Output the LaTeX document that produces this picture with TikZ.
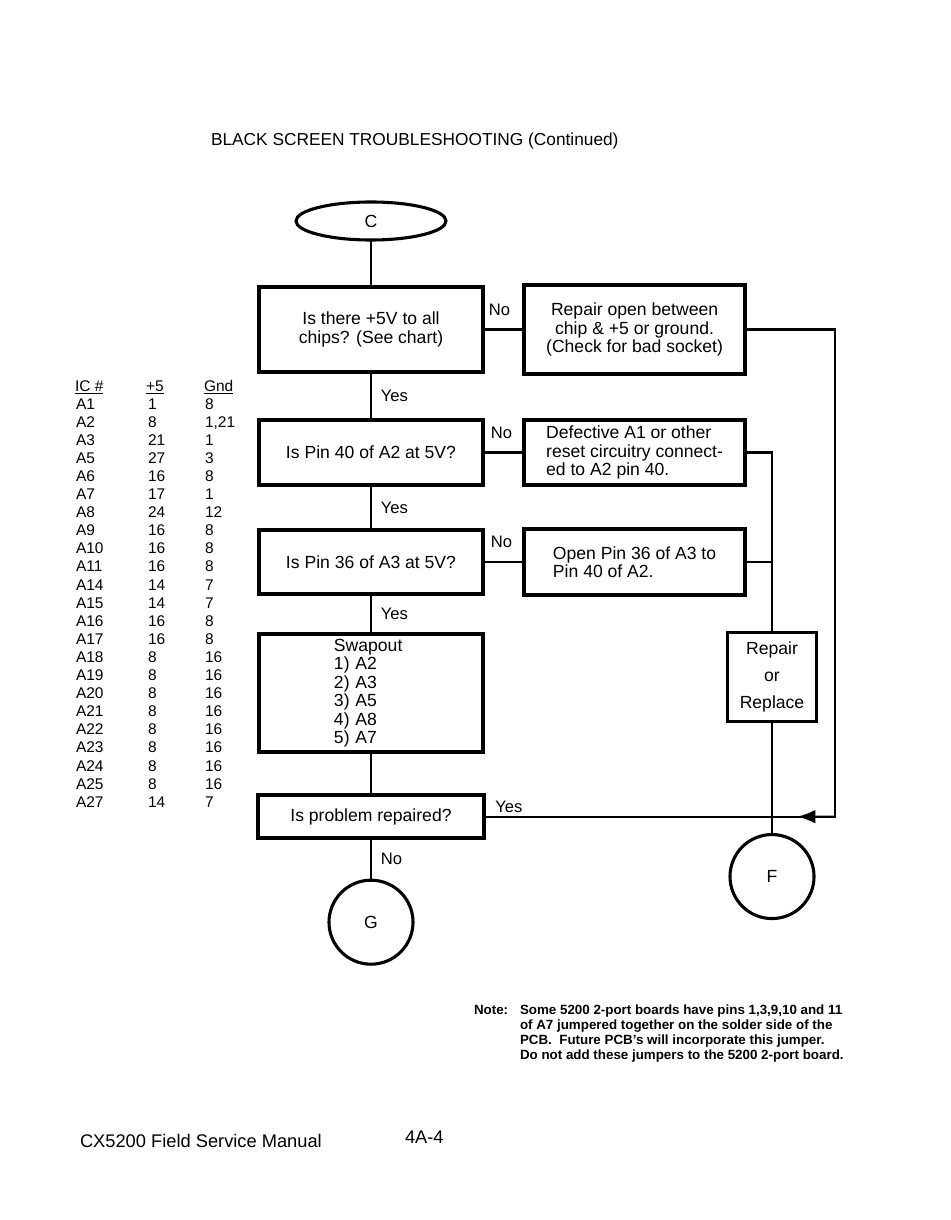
\documentclass[tikz,border=0pt]{standalone}
\usepackage{fontspec}
\setmainfont{Liberation Sans}
\usetikzlibrary{positioning,arrows.meta,shapes.geometric,calc}

\begin{document}
\begin{tikzpicture}[
	x=0.025cm, y=-0.025cm,
	font=\fontsize{12.5}{13.2}\selectfont,
	node distance=11mm,
	every node/.style={outer sep=0pt},
	question/.style={
		draw,
		line width=2.6pt,
		minimum width=56mm,
		align=center,
		inner sep=2pt,
	},
	action/.style={
		draw,
		line width=2.6pt,
		minimum width=55.25mm,
		align=left,
		inner sep=2pt,
	},
	repairbox/.style={
		action,
		minimum width=22.25mm,
		minimum height=22.25mm,
		align=center,
	},
	terminal/.style={
		draw,
		circle,
		line width=2.2pt,
		minimum size=21mm,
	},
	conn/.style={line width=1.6pt},
	arr/.style={conn, -{Latex[length=4.5mm,width=3.4mm]}},
	lbl/.style={inner sep=2pt, font=\fontsize{11.8}{13}\selectfont},
	tabcell/.style={anchor=base west, inner sep=0pt, font=\fontsize{11}{13}\selectfont},
]

\useasboundingbox (0,0) rectangle (950,1220);

% --- Titel ---
\node[anchor=base west, inner sep=0pt, font=\fontsize{12.3}{14}\selectfont] (title) at (211,146) {BLACK SCREEN TROUBLESHOOTING (Continued)};

% --- Hauptkette ---
\node[ellipse, draw, line width=2.2pt, minimum width=37.5mm, minimum height=9.5mm, inner sep=0pt] (c) at (371,221) {C};

\node[question, minimum height=21.25mm, below=11.75mm of c] (q1) {Is there +5V to all\\chips? (See chart)};

\node[question, minimum height=16.25mm, below=12mm of q1] (q2) {Is Pin 40 of A2 at 5V?};

\node[question, minimum height=16mm, below=11.25mm of q2] (q3) {Is Pin 36 of A3 at 5V?};

\node[question, minimum height=29.5mm, text width=18.5mm, align=left, below=10mm of q3] (swap) {%
	Swapout\\
	1) A2\\
	2) A3\\
	3) A5\\
	4) A8\\
	5) A7%
};

\node[question, minimum height=10.75mm, minimum width=56.5mm, below=10.75mm of swap] (q5) {Is problem repaired?};

\node[terminal, below=10.5mm of q5] (g) {G};

% --- Reparaturen (rechts) ---
\node[action, align=center, minimum height=22.25mm, right=10.25mm of q1] (fix1) {Repair open between\\chip \& +5 or ground.\\(Check for bad socket)};
\node[action, minimum height=16.25mm, right=10.25mm of q2] (fix2) {Defective A1 or other\\reset circuitry connect-\\ed to A2 pin 40.};
\node[action, minimum height=16.5mm, right=10.25mm of q3] (fix3) {Open Pin 36 of A3 to\\Pin 40 of A2.};

\node[repairbox] (repair) at (772,677) {Repair\\[6pt]or\\[6pt]Replace};
\node[terminal, below=28.25mm of repair] (f) {F};

% --- Pfeile Hauptkette ---
\draw[conn] (c) -- (q1);
\draw[conn] (q1) -- node[lbl, right=5pt] {Yes} (q2);
\draw[conn] (q2) -- node[lbl, right=5pt] {Yes} (q3);
\draw[conn] (q3) -- node[lbl, right=5pt] {Yes} (swap);
\draw[conn] (swap) -- (q5);
\draw[conn] (q5) -- node[lbl, right=5pt] {No} (g);

% --- Nein-Zweige ---
\draw[conn] (q1.east) -- node[lbl, above=8pt, pos=0.4] {No} (fix1.west);
\draw[conn] (q2.east) -- node[lbl, above=8pt, pos=0.45] {No} (fix2.west);
\draw[conn] (q3.east) -- node[lbl, above=8pt, pos=0.45] {No} (fix3.west);

\draw[conn] (fix2.east) -| (repair.north);
\draw[conn] (fix3.east) -| (repair.north);
\draw[conn] (repair.south) -- (f.north);

% --- Rueckweg von fix1 und Ja-Zweig ---
\coordinate (bypassTop) at ($(fix1.east)+(90,0)$);
\coordinate (fjoin) at (repair.south |- q5.east);
\coordinate (bypassBot) at (bypassTop |- fjoin);
\draw[conn] (fix1.east) -- (bypassTop) -- (bypassBot) -- (fjoin);
\draw[arr] (bypassBot) -- ($(bypassBot)!0.6!(fjoin)$);
\draw[conn] (q5.east) -- node[lbl, pos=0, above right=1pt and 6pt] {Yes} (fjoin);

% --- Tabelle ---
\node[tabcell] (hic) at (75,391) {\underline{IC \#}};
\node[tabcell] (hvcc) at (146,391) {\underline{+5}};
\node[tabcell] (hgnd) at (204,391) {\underline{Gnd}};
\foreach \ic/\vcc/\gnd [count=\r] in {A1/1/8, A2/8/{1,21}, A3/21/1, A5/27/3, A6/16/8,
		A7/17/1, A8/24/12, A9/16/8, A10/16/8, A11/16/8, A14/14/7, A15/14/7,
		A16/16/8, A17/16/8, A18/8/16, A19/8/16, A20/8/16, A21/8/16, A22/8/16,
		A23/8/16, A24/8/16, A25/8/16, A27/14/7} {
	\pgfmathsetmacro\rowy{409+(\r-1)*18.1}
	\node[tabcell] (ic\r) at (76,\rowy) {\ic};
	\node[tabcell] (vcc\r) at (148,\rowy) {\vcc};
	\node[tabcell] (gnd\r) at (205,\rowy) {\gnd};
}

% --- Anmerkung ---
\node[anchor=base west, inner sep=0pt, font=\fontsize{9.5}{10.7}\selectfont\bfseries] (notelbl) at (474,1014) {Note:};
\node[anchor=north west, inner sep=0pt, align=left, font=\fontsize{9.5}{10.7}\selectfont\bfseries] (note) at (520,1005) {Some 5200 2-port boards have pins 1,3,9,10 and 11\\of A7 jumpered together on the solder side of the\\PCB.\ \ Future PCB's will incorporate this jumper.\\Do not add these jumpers to the 5200 2-port board.};

% --- Fusszeile ---
\node[anchor=base west, inner sep=0pt, font=\fontsize{13}{15}\selectfont] (manual) at (80,1147) {CX5200 Field Service Manual};
\node[anchor=base west, inner sep=0pt, font=\fontsize{13}{15}\selectfont] (page) at (405,1143) {4A-4};

\end{tikzpicture}
\end{document}
